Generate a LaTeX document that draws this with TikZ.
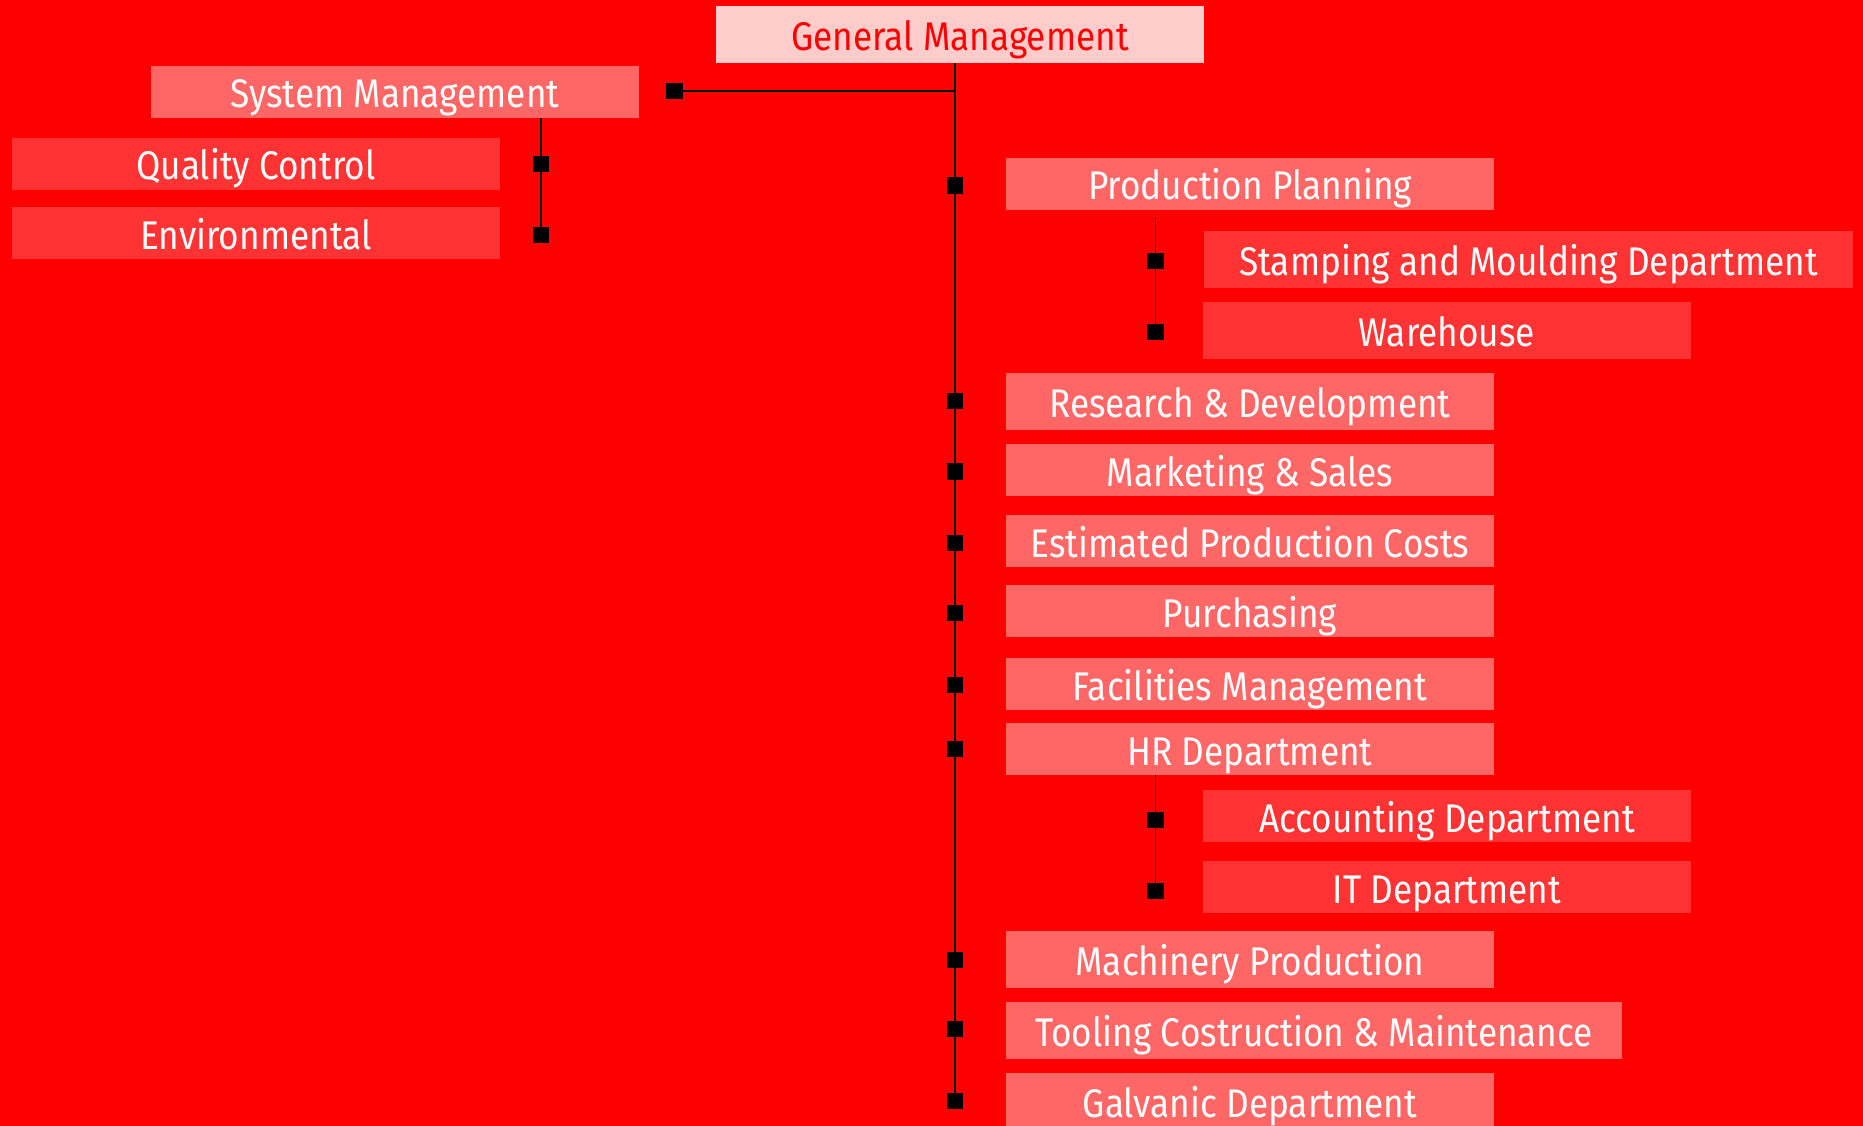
\documentclass[tikz,border=0pt]{standalone}
\usepackage{fontspec}
\setmainfont{Fira Sans}[FakeStretch=0.88]
\definecolor{bgred}{HTML}{FF0000}
\definecolor{gmfill}{HTML}{FFCCCC}
\definecolor{midfill}{HTML}{FF6666}
\definecolor{subfill}{HTML}{FF3333}
\tikzset{
  box/.style={rectangle, inner sep=0pt, text height=32pt, text depth=0pt,
    font=\fontsize{40}{44}\selectfont, text=white, minimum width=488, minimum height=52},
  midbox/.style={box, fill=midfill},
  subbox/.style={box, fill=subfill},
  gmbox/.style={box, fill=gmfill, text=bgred},
  marker/.style={rectangle, fill=black, inner sep=0pt, minimum size=16},
  link/.style={draw=black, line width=1.3pt}
}
\begin{document}
\begin{tikzpicture}[x=1pt, y=-1pt]
\fill[bgred] (0,0) rectangle (1863,1126);
\useasboundingbox (0,0) rectangle (1863,1126);

% boxes
\node[gmbox, minimum height=57] (gm) at (960,34.5) {General Management};
\node[midbox] (sm) at (395,92) {System Management};
\node[subbox] (qc) at (256,164) {Quality Control};
\node[subbox] (env) at (256,233) {Environmental};

\node[midbox] (pp) at (1250,184) {Production Planning};
\node[subbox, minimum width=649, minimum height=57] (stamp) at (1528.5,259.5) {Stamping and Moulding Department};
\node[subbox, minimum height=57] (ware) at (1447,330.5) {Warehouse};
\node[midbox, minimum height=57] (rd) at (1250,401.5) {Research \& Development};
\node[midbox] (mkt) at (1250,470) {Marketing \& Sales};
\node[midbox] (est) at (1250,541) {Estimated Production Costs};
\node[midbox] (pur) at (1250,611) {Purchasing};
\node[midbox] (fac) at (1250,684) {Facilities Management};
\node[midbox] (hr) at (1250,749) {HR Department};
\node[subbox] (acc) at (1447,816) {Accounting Department};
\node[subbox] (it) at (1447,887) {IT Department};
\node[midbox, minimum height=57] (mach) at (1250,959.5) {Machinery Production};
\node[midbox, minimum width=616, minimum height=57] (tool) at (1314,1030.5) {Tooling Costruction \& Maintenance};
\node[midbox, minimum height=57] (galv) at (1250,1101.5) {Galvanic Department};

% markers on the main trunk
\coordinate (trunk) at (955,0);
\node[marker] (m-pp) at (955,185.5) {};
\node[marker] (m-rd) at (955,401) {};
\node[marker] (m-mkt) at (955,471.5) {};
\node[marker] (m-est) at (955,543) {};
\node[marker] (m-pur) at (955,613) {};
\node[marker] (m-fac) at (955,685) {};
\node[marker] (m-hr) at (955,749) {};
\node[marker] (m-mach) at (955,960) {};
\node[marker] (m-tool) at (955,1029) {};
\node[marker] (m-galv) at (955,1101) {};

% system management branch
\node[marker] (m-sm) at (674.5,91) {};
\node[marker] (m-qc) at (541,164) {};
\node[marker] (m-env) at (541,235) {};

% production planning branch
\node[marker] (m-stamp) at (1155.5,261) {};
\node[marker] (m-ware) at (1155.5,332) {};
\coordinate (pp-top) at (1155.5,217);

% HR branch
\node[marker] (m-acc) at (1155.5,820) {};
\node[marker] (m-it) at (1155.5,891) {};

% connectors
\draw[link] (gm.south -| trunk) -- (m-galv.center);
\draw[link] (m-sm.center) -- (m-sm.center -| trunk);
\draw[link] (sm.south -| m-qc) -- (m-env.center);
\draw[link] (pp-top) -- (m-ware.center);
\draw[link] (hr.south -| m-acc) -- (m-it.center);

% redraw markers on top
\foreach \m in {m-pp,m-rd,m-mkt,m-est,m-pur,m-fac,m-hr,m-mach,m-tool,m-galv,m-sm,m-qc,m-env,m-stamp,m-ware,m-acc,m-it}
  \fill[black] (\m.south west) rectangle (\m.north east);
\end{tikzpicture}
\end{document}
